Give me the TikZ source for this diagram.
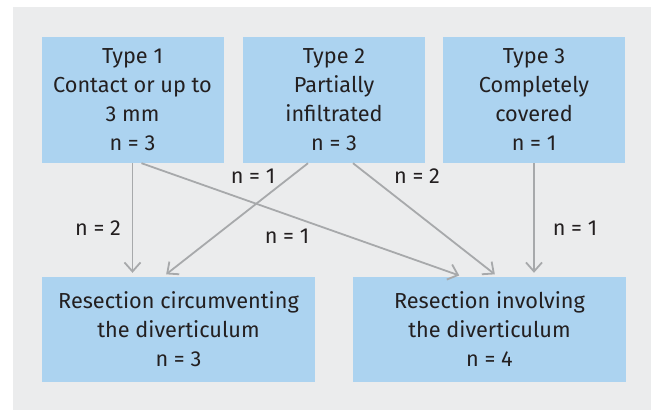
\documentclass[tikz,border=0pt]{standalone}
\usepackage{fontspec}
\setmainfont{Fira Sans}
\usepackage{tikz}
\usetikzlibrary{calc,arrows.meta,positioning}
\definecolor{boxblue}{HTML}{ACD3F0}
\definecolor{panelgrey}{HTML}{EBECED}
\definecolor{linegrey}{HTML}{A7A9AB}
\definecolor{inkdark}{HTML}{231F20}
\tikzset{
    typebox/.style={fill=boxblue, minimum width=182pt, minimum height=126pt, align=center, inner sep=0pt, text=inkdark, font=\fontsize{21.7}{29}\selectfont},
    resbox/.style={fill=boxblue, minimum width=273pt, minimum height=105pt, align=center, inner sep=0pt, text=inkdark, font=\fontsize{21.7}{29}\selectfont},
    flow/.style={draw=linegrey, line width=1.8pt, -{Straight Barb[length=9pt, width=16pt]}, shorten >=4pt},
    count/.style={text=inkdark, font=\fontsize{21.7}{24}\selectfont, inner sep=1pt}
}
\begin{document}
\begin{tikzpicture}[x=1pt, y=-1pt]
    \useasboundingbox (0,0) rectangle (651,410);
    \fill[panelgrey] (13,7) rectangle (651,410);

    % Nodes
    \node[typebox] (t1) at (132.5,100) {Type 1\\Contact or up to\\3 mm\\n = 3};
    \node[typebox] (t2) at (334,100) {Type 2\\Partially\\infiltrated\\n = 3};
    \node[typebox] (t3) at (534,100) {Type 3\\Completely\\covered\\n = 1};
    \node[resbox] (r1) at (178.5,329.5) {Resection circumventing\\the diverticulum\\n = 3};
    \node[resbox] (r2) at (489.5,329.5) {Resection involving\\the diverticulum\\n = 4};

    % edges
    \draw[flow] (t1.south) -- (r1.north -| t1.south);
    \draw[flow] ([xshift=9pt]t1.south) -- ([xshift=-26.5pt]r2.north);
    \draw[flow] ([xshift=-26pt]t2.south) -- ([xshift=-15.5pt]r1.north);
    \draw[flow] ([xshift=19pt]t2.south) -- ([xshift=8.5pt]r2.north);
    \draw[flow] (t3.south) -- (r2.north -| t3.south);

    % counts
    \node[count] (c1) at (98,228) {n = 2};
    \node[count] (c2) at (253,176) {n = 1};
    \node[count] (c3) at (417,176) {n = 2};
    \node[count] (c4) at (287,236) {n = 1};
    \node[count] (c5) at (575,228) {n = 1};
\end{tikzpicture}
\end{document}
